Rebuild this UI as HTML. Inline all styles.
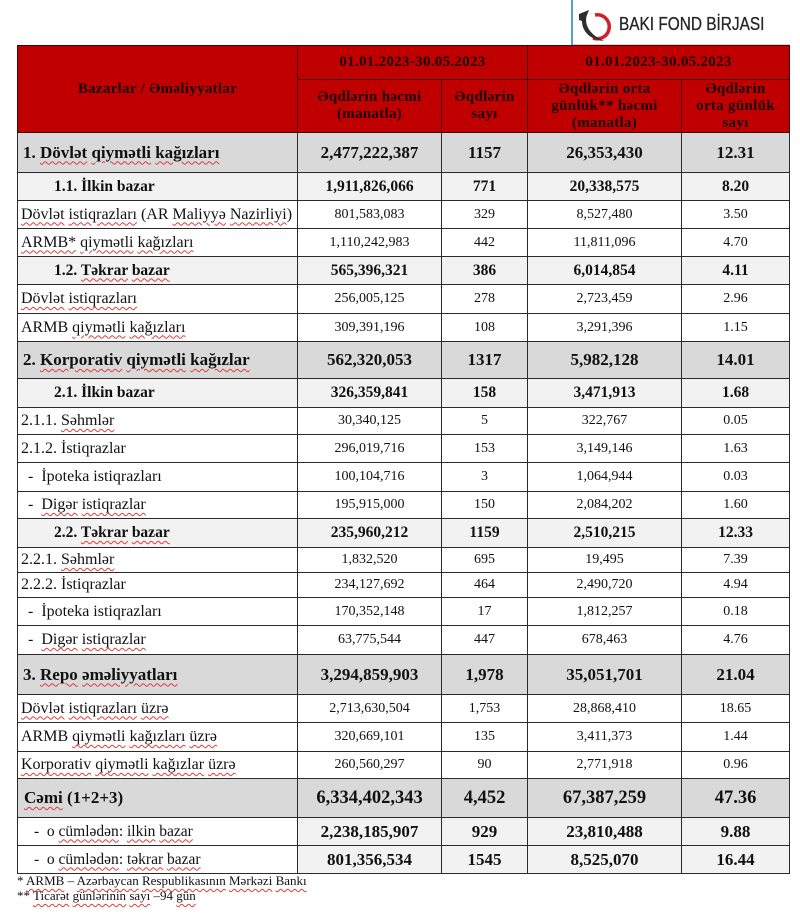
<!DOCTYPE html>
<html>
<head>
<meta charset="utf-8">
<style>
  html,body{margin:0;padding:0;background:#fff;}
  body{width:800px;height:916px;position:relative;overflow:hidden;font-family:"Liberation Serif","DejaVu Serif",serif;color:#111;}
  .bl{position:absolute;left:571px;top:0;width:2px;height:45px;background:#5b9bd5;}
  .pl{position:absolute;left:573px;top:44px;width:217px;height:1px;background:#f0c8c8;}
  .logo-ic{position:absolute;left:578px;top:9px;width:40px;height:34px;}
  .logo-tx{position:absolute;left:619px;top:13px;font-family:"Liberation Sans","DejaVu Sans",sans-serif;font-size:18px;line-height:22px;color:#262626;transform:scaleX(0.855);transform-origin:0 0;white-space:nowrap;letter-spacing:0;-webkit-text-stroke:0.3px #262626;}
  table{position:absolute;left:17px;top:45px;border-collapse:collapse;table-layout:fixed;width:772px;}
  td,th{border:1px solid #2a2a2a;padding:0;vertical-align:middle;text-align:center;white-space:nowrap;overflow:hidden;}
  th{background:#c00000;color:#1a0000;font-weight:bold;font-size:15px;letter-spacing:0.3px;line-height:17px;border-color:#3a0a0a;}
  td.l{text-align:left;}
  tr.m td{background:#d9d9d9;font-weight:bold;font-size:17px;}
  tr.m td.l{padding-left:5px;}
  tr.s td{background:#f2f2f2;font-weight:bold;font-size:15.5px;}
  tr.s td.l{padding-left:36px;}
  tr.r td{background:#fff;font-size:14px;}
  tr.r td.l{font-size:16px;padding-left:3px;}
  tr.r td.d{padding-left:10px;}
  tr.c td{background:#d9d9d9;font-weight:bold;font-size:18.5px;}
  tr.c td.l{font-size:17px;padding-left:6px;}
  tr.t td{background:#f2f2f2;font-weight:bold;font-size:17px;}
  tr.t td.l{background:#fff;font-weight:normal;font-size:15.5px;padding-left:16px;}
  .w{text-decoration:underline wavy #e23b3b;text-decoration-thickness:1px;text-underline-offset:3px;}
  .fn{position:absolute;left:17px;font-size:13px;line-height:15px;white-space:nowrap;color:#111;}
</style>
</head>
<body>
<div class="bl"></div>
<div class="pl"></div>
<svg class="logo-ic" viewBox="0 0 40 34" xmlns="http://www.w3.org/2000/svg">
  <path d="M17,6 A12,12 0 1 1 15,29" fill="none" stroke="#d0202a" stroke-width="3.5"/>
  <path d="M1,5 L11,1 L9,6 C6,14 10,25 26,32 C13,31 4,23 4,12 L1,11 Z" fill="#2e2e2e"/>
</svg>
<div class="logo-tx">BAKI FOND BİRJASI</div>

<table>
  <colgroup>
    <col style="width:280px"><col style="width:144px"><col style="width:86px"><col style="width:154px"><col style="width:108px">
  </colgroup>
  <tr style="height:34px">
    <th rowspan="2">Bazarlar / Əməliyyatlar</th>
    <th colspan="2">01.01.2023-30.05.2023</th>
    <th colspan="2">01.01.2023-30.05.2023</th>
  </tr>
  <tr style="height:53px">
    <th>Əqdlərin həcmi<br>(manatla)</th>
    <th>Əqdlərin<br>sayı</th>
    <th>Əqdlərin orta<br>günlük** həcmi<br>(manatla)</th>
    <th>Əqdlərin<br>orta günlük<br>sayı</th>
  </tr>
  <tr class="m" style="height:40px"><td class="l">1. <span class="w">Dövlət</span> <span class="w">qiymətli</span> <span class="w">kağızları</span></td><td>2,477,222,387</td><td>1157</td><td>26,353,430</td><td>12.31</td></tr>
  <tr class="s" style="height:28px"><td class="l">1.1. İlkin bazar</td><td>1,911,826,066</td><td>771</td><td>20,338,575</td><td>8.20</td></tr>
  <tr class="r" style="height:28px"><td class="l"><span class="w">Dövlət</span> <span class="w">istiqrazları</span> (AR <span class="w">Maliyyə</span> <span class="w">Nazirliyi</span>)</td><td>801,583,083</td><td>329</td><td>8,527,480</td><td>3.50</td></tr>
  <tr class="r" style="height:28px"><td class="l"><span class="w">ARMB*</span> <span class="w">qiymətli</span> <span class="w">kağızları</span></td><td>1,110,242,983</td><td>442</td><td>11,811,096</td><td>4.70</td></tr>
  <tr class="s" style="height:28px"><td class="l">1.2. <span class="w">Təkrar</span> <span class="w">bazar</span></td><td>565,396,321</td><td>386</td><td>6,014,854</td><td>4.11</td></tr>
  <tr class="r" style="height:29px"><td class="l"><span class="w">Dövlət</span> <span class="w">istiqrazları</span></td><td>256,005,125</td><td>278</td><td>2,723,459</td><td>2.96</td></tr>
  <tr class="r" style="height:28px"><td class="l">ARMB <span class="w">qiymətli</span> <span class="w">kağızları</span></td><td>309,391,196</td><td>108</td><td>3,291,396</td><td>1.15</td></tr>
  <tr class="m" style="height:37px"><td class="l">2. <span class="w">Korporativ</span> <span class="w">qiymətli</span> <span class="w">kağızlar</span></td><td>562,320,053</td><td>1317</td><td>5,982,128</td><td>14.01</td></tr>
  <tr class="s" style="height:29px"><td class="l">2.1. İlkin bazar</td><td>326,359,841</td><td>158</td><td>3,471,913</td><td>1.68</td></tr>
  <tr class="r" style="height:27px"><td class="l">2.1.1. <span class="w">Səhmlər</span></td><td>30,340,125</td><td>5</td><td>322,767</td><td>0.05</td></tr>
  <tr class="r" style="height:28px"><td class="l">2.1.2. İstiqrazlar</td><td>296,019,716</td><td>153</td><td>3,149,146</td><td>1.63</td></tr>
  <tr class="r" style="height:29px"><td class="l d">-&nbsp; İpoteka istiqrazları</td><td>100,104,716</td><td>3</td><td>1,064,944</td><td>0.03</td></tr>
  <tr class="r" style="height:27px"><td class="l d">-&nbsp; <span class="w">Digər</span> <span class="w">istiqrazlar</span></td><td>195,915,000</td><td>150</td><td>2,084,202</td><td>1.60</td></tr>
  <tr class="s" style="height:29px"><td class="l">2.2. <span class="w">Təkrar</span> <span class="w">bazar</span></td><td>235,960,212</td><td>1159</td><td>2,510,215</td><td>12.33</td></tr>
  <tr class="r" style="height:25px"><td class="l">2.2.1. <span class="w">Səhmlər</span></td><td>1,832,520</td><td>695</td><td>19,495</td><td>7.39</td></tr>
  <tr class="r" style="height:25px"><td class="l">2.2.2. İstiqrazlar</td><td>234,127,692</td><td>464</td><td>2,490,720</td><td>4.94</td></tr>
  <tr class="r" style="height:28px"><td class="l d">-&nbsp; İpoteka istiqrazları</td><td>170,352,148</td><td>17</td><td>1,812,257</td><td>0.18</td></tr>
  <tr class="r" style="height:29px"><td class="l d">-&nbsp; <span class="w">Digər</span> <span class="w">istiqrazlar</span></td><td>63,775,544</td><td>447</td><td>678,463</td><td>4.76</td></tr>
  <tr class="m" style="height:40px"><td class="l">3. <span class="w">Repo</span> <span class="w">əməliyyatları</span></td><td>3,294,859,903</td><td>1,978</td><td>35,051,701</td><td>21.04</td></tr>
  <tr class="r" style="height:28px"><td class="l"><span class="w">Dövlət</span> <span class="w">istiqrazları</span> <span class="w">üzrə</span></td><td>2,713,630,504</td><td>1,753</td><td>28,868,410</td><td>18.65</td></tr>
  <tr class="r" style="height:29px"><td class="l">ARMB <span class="w">qiymətli</span> <span class="w">kağızları</span> <span class="w">üzrə</span></td><td>320,669,101</td><td>135</td><td>3,411,373</td><td>1.44</td></tr>
  <tr class="r" style="height:27px"><td class="l"><span class="w">Korporativ</span> <span class="w">qiymətli</span> <span class="w">kağızlar</span> <span class="w">üzrə</span></td><td>260,560,297</td><td>90</td><td>2,771,918</td><td>0.96</td></tr>
  <tr class="c" style="height:39px"><td class="l"><span class="w">Cəmi</span> (1+2+3)</td><td>6,334,402,343</td><td>4,452</td><td>67,387,259</td><td>47.36</td></tr>
  <tr class="t" style="height:28px"><td class="l">-&nbsp; o <span class="w">cümlədən</span>: <span class="w">ilkin</span> <span class="w">bazar</span></td><td>2,238,185,907</td><td>929</td><td>23,810,488</td><td>9.88</td></tr>
  <tr class="t" style="height:28px"><td class="l">-&nbsp; o <span class="w">cümlədən</span>: <span class="w">təkrar</span> <span class="w">bazar</span></td><td>801,356,534</td><td>1545</td><td>8,525,070</td><td>16.44</td></tr>
</table>

<div class="fn" style="top:873px;">* <span class="w">ARMB</span> – <span class="w">Azərbaycan</span> <span class="w">Respublikasının</span> <span class="w">Mərkəzi</span> <span class="w">Bankı</span></div>
<div class="fn" style="top:888px;">** <span class="w">Ticarət</span> <span class="w">günlərinin</span> <span class="w">sayı</span> –94 <span class="w">gün</span></div>
</body>
</html>
